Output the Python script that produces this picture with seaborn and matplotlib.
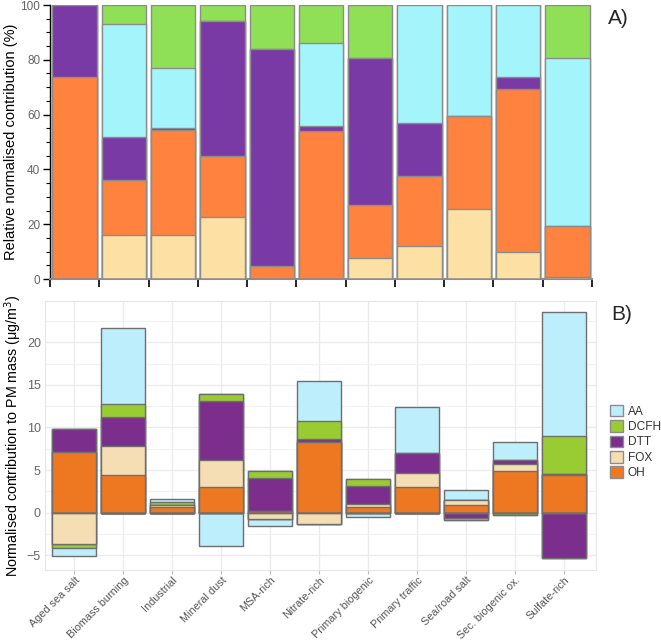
import numpy as np
import matplotlib
matplotlib.use("Agg")
import matplotlib.pyplot as plt
import seaborn as sns
from matplotlib.patches import Patch
from matplotlib.ticker import MultipleLocator, FixedLocator

categories = ["Aged sea salt", "Biomass burning", "Industrial", "Mineral dust",
              "MSA-rich", "Nitrate-rich", "Primary biogenic", "Primary traffic",
              "Sea/road salt", "Sec. biogenic ox.", "Sulfate-rich"]
assays = ["AA", "DCFH", "DTT", "FOX", "OH"]

# Panel A: relative normalised contribution (%)
rel_FOX = [0, 15.9, 15.9, 22.6, 0, 0, 7.6, 12.0, 25.4, 9.8, 0.7]
rel_OH = [73.8, 20.4, 38.6, 22.3, 4.7, 53.9, 19.3, 25.6, 34.1, 59.5, 18.6]
rel_DTT = [26.2, 15.7, 0.6, 49.4, 79.1, 2.0, 53.8, 19.4, 0, 4.5, 0]
rel_AA = [0, 41.1, 21.8, 0, 0, 30.1, 0, 43.0, 40.5, 26.2, 61.4]
rel_DCFH = [0, 6.9, 23.1, 5.7, 16.2, 14.0, 19.3, 0, 0, 0, 19.3]

# Panel B: normalised contribution to PM mass (ug/m3)
abs_OH = [7.1, 4.4, 0.6, 3.0, 0.2, 8.25, 0.7, 3.05, 0.86, 4.9, 4.4]
abs_FOX = [-3.65, 3.45, 0.25, 3.2, -0.8, -1.3, 0.3, 1.55, 0.67, 0.8, 0.15]
abs_DTT = [2.7, 3.4, 0.01, 6.9, 3.9, 0.35, 2.15, 2.45, -0.65, 0.45, -5.3]
abs_DCFH = [-0.5, 1.55, 0.36, 0.8, 0.8, 2.15, 0.75, 0, -0.2, -0.3, 4.5]
abs_AA = [-1.0, 8.9, 0.34, -3.9, -0.8, 4.7, -0.5, 5.4, 1.1, 2.15, 14.5]

colors_A = {"AA": "#A4F4FB", "DCFH": "#8FE057", "DTT": "#7A3AA6",
            "FOX": "#FDE0A3", "OH": "#FF823F"}
colors_B = {"AA": "#BDEEFB", "DCFH": "#99CC33", "DTT": "#7B2E8C",
            "FOX": "#F5DEB3", "OH": "#EE7722"}

sns.set_style("white")
plt.rcParams["font.family"] = ["Liberation Sans", "DejaVu Sans"]

fig = plt.figure(figsize=(6.61, 6.41), dpi=100)
axA = fig.add_axes([50 / 661, 1 - 279 / 641, 542 / 661, 274 / 641])
axB = fig.add_axes([45 / 661, 1 - 570 / 641, 551 / 661, 269.3 / 641])


def stacked(ax, layers, colors, edge, lw):
    n = len(categories)
    pos_cum = np.zeros(n)
    neg_cum = np.zeros(n)
    pos_list, neg_list = [], []
    for name, vals in layers:
        v = np.asarray(vals, dtype=float)
        pos_cum = pos_cum + np.clip(v, 0, None)
        neg_cum = neg_cum + np.clip(v, None, 0)
        pos_list.append((name, pos_cum.copy()))
        neg_list.append((name, neg_cum.copy()))
    for lst in (pos_list, neg_list):
        for name, cum in reversed(lst):
            sns.barplot(x=categories, y=cum, color=colors[name], saturation=1,
                        width=0.9, edgecolor=edge, linewidth=lw,
                        errorbar=None, ax=ax, zorder=3)


# ---- Panel A
stacked(axA, [("FOX", rel_FOX), ("OH", rel_OH), ("DTT", rel_DTT),
              ("AA", rel_AA), ("DCFH", rel_DCFH)], colors_A, "#8C8C8C", 1.0)
axA.set_xlim(-0.5, len(categories) - 0.5)
axA.set_ylim(0, 100)
axA.xaxis.set_major_locator(FixedLocator(np.arange(-0.5, len(categories), 1.0)))
axA.set_xticklabels([])
axA.yaxis.set_major_locator(MultipleLocator(20))
axA.yaxis.set_minor_locator(MultipleLocator(5))
for s in ("top", "right"):
    axA.spines[s].set_visible(False)
axA.spines["left"].set_color("black")
axA.spines["left"].set_linewidth(1.0)
axA.spines["bottom"].set_color("#8C8C8C")
axA.spines["bottom"].set_linewidth(1.5)
axA.tick_params(axis="y", which="major", length=5, width=1, color="black",
                labelcolor="#666666", labelsize=8.5, left=True, direction="out",
                pad=2)
axA.tick_params(axis="y", which="minor", length=3, width=0.8, color="black",
                left=True, direction="out")
axA.tick_params(axis="x", which="major", length=6, width=1.2, color="black",
                bottom=True, direction="out")
axA.set_ylabel("Relative normalised contribution (%)", fontsize=10.5,
               color="black", labelpad=2)
axA.set_xlabel("")
fig.text(608 / 661, 1 - 18 / 641, "A)", fontsize=15, ha="left", va="center")

# ---- Panel B
stacked(axB, [("OH", abs_OH), ("FOX", abs_FOX), ("DTT", abs_DTT),
              ("DCFH", abs_DCFH), ("AA", abs_AA)], colors_B, "#6E6E6E", 1.0)
axB.set_xlim(-0.6, len(categories) - 0.35)
axB.set_ylim(-6.75, 24.9)
axB.yaxis.set_major_locator(MultipleLocator(5))
axB.yaxis.set_minor_locator(MultipleLocator(2.5))
axB.set_axisbelow(True)
axB.grid(which="major", color="#EBEBEB", linewidth=1.0, zorder=0)
axB.grid(which="minor", axis="y", color="#F2F2F2", linewidth=0.8, zorder=0)
for s in axB.spines.values():
    s.set_color("#E6E6E6")
    s.set_linewidth(0.8)
axB.tick_params(axis="y", which="both", length=0, labelcolor="#666666",
                labelsize=9, pad=3)
axB.tick_params(axis="x", which="major", length=3, color="#BBBBBB",
                labelcolor="#555555", labelsize=7.8, bottom=True, pad=0.5)
axB.set_xticks(range(len(categories)))
axB.set_xticklabels(categories, rotation=45, ha="right",
                    rotation_mode="anchor")
axB.set_ylabel("Normalised contribution to PM mass (μg/m$^3$)", fontsize=10.3,
               color="black", labelpad=2)
axB.set_xlabel("")
fig.text(611 / 661, 1 - 314 / 641, "B)", fontsize=15, ha="left", va="center")

handles = [Patch(facecolor=colors_B[a], edgecolor="#8C8C8C", linewidth=1.0,
                 label=a) for a in assays]
fig.legend(handles=handles, loc="upper left",
           bbox_to_anchor=(605 / 661, 1 - 400 / 641), frameon=False,
           fontsize=8.6, handlelength=1.1, handleheight=1.1,
           labelspacing=0.22, handletextpad=0.4, borderaxespad=0,
           labelcolor="#333333")

fig.savefig("out.png", dpi=100)
